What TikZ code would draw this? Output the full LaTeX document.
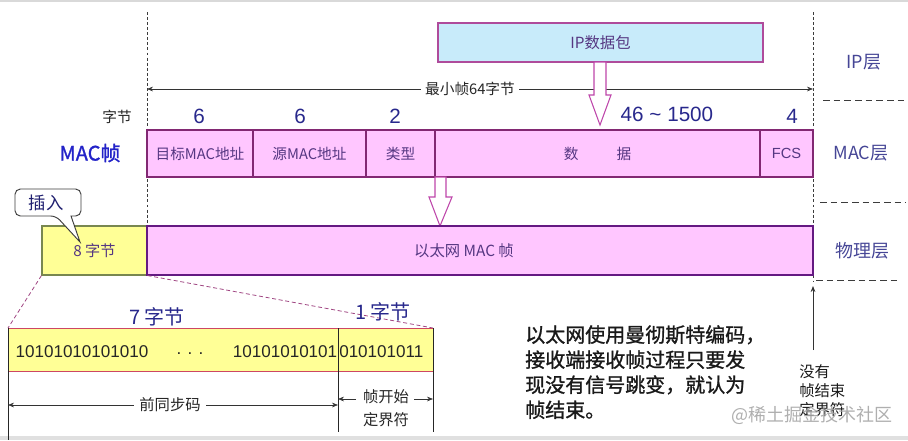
\documentclass[tikz,border=0pt]{standalone}
\usepackage{fontspec}
\setmainfont{Noto Sans CJK SC}
\newfontfamily\arialf{Liberation Sans}
\newfontfamily\cjkbold[FakeBold=1.2]{Noto Sans CJK SC}
\usetikzlibrary{arrows.meta,fit}
\definecolor{macpink}{RGB}{255,198,255}
\definecolor{macborder}{RGB}{130,40,115}
\definecolor{phyborder}{RGB}{100,25,130}
\definecolor{ipfill}{RGB}{200,235,250}
\definecolor{ipborder}{RGB}{175,75,155}
\definecolor{fieldtxt}{RGB}{85,55,130}
\definecolor{numblue}{RGB}{40,40,140}
\definecolor{macblue}{RGB}{35,35,200}
\definecolor{layerblue}{RGB}{70,70,150}
\definecolor{hollowpink}{RGB}{190,70,170}
\definecolor{yel}{RGB}{255,255,150}
\definecolor{yelborder}{RGB}{120,135,80}
\definecolor{barborder}{RGB}{205,70,100}
\definecolor{dashpurple}{RGB}{160,70,130}
\definecolor{darkgray}{RGB}{60,60,60}
\begin{document}
\begin{tikzpicture}[x=0.75pt,y=-0.75pt,
  field/.style={draw=macborder, fill=macpink, line width=0.8pt, inner sep=0pt},
  ftext/.style={text=fieldtxt, font=\fontsize{11}{13}\selectfont, inner sep=0pt},
  num/.style={text=numblue, font=\arialf\fontsize{15.5}{18}\selectfont, inner sep=0pt},
  layer/.style={text=layerblue, font=\fontsize{13.5}{16}\selectfont, inner sep=0pt},
  hollow/.style={draw=hollowpink, fill=white, line width=0.8pt},
  vdash/.style={draw=darkgray, line width=0.6pt, dash pattern=on 2.2pt off 1.6pt},
  hdash/.style={draw=darkgray, line width=0.6pt, dash pattern=on 5pt off 3pt},
  dimarrow/.style={-{Stealth[length=4.5pt,width=3.5pt]}, line width=0.5pt, draw=black!80},
  lbl/.style={inner sep=1pt, text=black!85},
  bits/.style={font=\arialf\fontsize{12.8}{15}\selectfont, text=black!85, inner sep=0pt}
]
\useasboundingbox (0,0) rectangle (908,440);
% frame lines of the screenshot
\draw[black!15, line width=1pt] (0,1) -- (908,1);
\fill[black!12] (0,436) rectangle (908,440);

% vertical dashed boundaries
\coordinate (lt) at (147,12);
\coordinate (lb) at (147,226);
\coordinate (rt) at (813,12);
\coordinate (rb) at (813,282);
\draw[vdash] (lt) -- (lb);
\draw[vdash] (rt) -- (rb);

% layer separators and labels
\coordinate (s1a) at (823,100); \coordinate (s1b) at (908,100);
\coordinate (s2a) at (820,202); \coordinate (s2b) at (906,202);
\coordinate (s3a) at (816,280); \coordinate (s3b) at (900,280);
\draw[hdash] (s1a) -- (s1b);
\draw[hdash] (s2a) -- (s2b);
\draw[hdash] (s3a) -- (s3b);
\node[layer] (iplayer) at (864,62) {IP层};
\node[layer] (maclayer) at (861,153) {MAC层};
\node[layer] (phylayer) at (862,251) {物理层};

% IP packet
\node[draw=ipborder, fill=ipfill, line width=0.9pt, inner sep=0pt, fit={(438,23) (763,62)},
      label={[ftext, font=\fontsize{11.5}{13}\selectfont]center:IP数据包}] (ip) {};

% min frame arrow
\node[lbl, font=\fontsize{11}{13}\selectfont, fill=white, inner sep=3pt] (minf) at (470,89) {最小帧64字节};
\draw[dimarrow] (minf.west) -- (lt |- minf.west);
\draw[dimarrow] (minf.east) -- (rt |- minf.east);

% hollow arrow IP -> MAC data
\draw[hollow] (594,62) -- (606,62) -- (606,95) -- (611,95) -- (600,125) -- (589,95) -- (594,95) -- cycle;

% byte counts
\node[lbl, font=\fontsize{11}{13}\selectfont] (zj) at (117,117) {字节};
\node[num] (n1) at (199,116) {6};
\node[num] (n2) at (300,116) {6};
\node[num] (n3) at (395,116) {2};
\node[num] (n4) at (667,114) {46 \textasciitilde{} 1500};
\node[num] (n5) at (792,116) {4};

% MAC frame
\node[text=macblue, font=\cjkbold\fontsize{15}{17}\selectfont, inner sep=0pt] (macz) at (90,153) {MAC帧};
\node[field, fit={(147,130) (253,177)}, label={[ftext]center:目标MAC地址}] (dst) {};
\node[field, fit={(253,130) (366,177)}, label={[ftext]center:源MAC地址}] (src) {};
\node[field, fit={(366,130) (435,177)}, label={[ftext]center:类型}] (typ) {};
\node[field, fit={(435,130) (760,177)}, label={[ftext]center:数\hspace{2.6em}据}] (dat) {};
\node[field, fit={(760,130) (813,177)}, label={[ftext, font=\arialf\fontsize{11}{13}\selectfont]center:FCS}] (fcs) {};

% hollow arrow MAC -> physical
\draw[hollow] (435,177) -- (446,177) -- (446,197) -- (452,197) -- (440,226) -- (429,197) -- (435,197) -- cycle;

% physical layer frame
\node[draw=yelborder, fill=yel, line width=0.8pt, inner sep=0pt, fit={(42,226) (147,275)},
      label={[ftext, font=\fontsize{11.4}{13}\selectfont]center:8 字节}] (pre8) {};
\node[draw=phyborder, fill=macpink, line width=1.2pt, inner sep=0pt, fit={(147,226) (813,275)},
      label={[ftext, font=\fontsize{11.5}{13}\selectfont, xshift=-12pt]center:以太网 MAC 帧}] (phy) {};

% callout
\draw[draw=darkgray, fill=white, line width=0.7pt] (80,242) -- (71,216) [rounded corners=4pt] -- (81,216) -- (81,189) -- (15,189) -- (15,216) -- (56,216) [sharp corners] -- cycle;
\node[text=numblue!80!black, font=\fontsize{13}{15}\selectfont, inner sep=0pt] (ins) at (46,203) {插入};

% zoom lines
\coordinate (zl) at (8,328);
\coordinate (zr) at (433,328);
\draw[dashpurple, line width=0.6pt, dash pattern=on 3pt off 2pt] (pre8.south west) -- (zl);
\draw[dashpurple, line width=0.6pt, dash pattern=on 3pt off 2pt] (pre8.south east) -- (zr);

% 7 / 1 byte
\node[num, font=\fontsize{15}{17}\selectfont] (b7) at (157,317) {7 字节};
\node[num, font=\fontsize{15}{17}\selectfont] (b1) at (383,312) {1 字节};

% preamble bar
\fill[yel] (8,328) rectangle (433,371);
\draw[barborder, line width=0.7pt] (8,328) -- (433,328);
\draw[barborder, line width=0.7pt] (8,371) -- (433,371);
\coordinate (v1t) at (8,328); \coordinate (v1b) at (8,440);
\coordinate (v2t) at (338,328); \coordinate (v2b) at (338,432);
\coordinate (v3t) at (433,328); \coordinate (v3b) at (433,432);
\draw[black!85, line width=0.6pt] (v1t) -- (v1b);
\draw[black!85, line width=0.6pt] (v2t) -- (v2b);
\draw[black!85, line width=0.6pt] (v3t) -- (v3b);
\node[bits] (t1) at (82,352) {10101010101010};
\node[bits] (t2) at (190,354) {. . .};
\node[bits, anchor=east] (t3) at (337.5,352) {10101010101};
\node[bits, anchor=west] (t4) at (339,352) {010101011};

% bottom dimension arrows
\node[lbl, font=\fontsize{11.5}{13}\selectfont, inner sep=4pt] (qtb) at (170,405) {前同步码};
\draw[dimarrow] (qtb.west) -- (v1t |- qtb.west);
\draw[dimarrow] (qtb.east) -- (v2t |- qtb.east);
\node[lbl, font=\fontsize{11.5}{17}\selectfont, align=center, inner sep=2pt] (sfd) at (386,408) {帧开始\\定界符};
\coordinate (sfdl) at (356,399);
\coordinate (sfdr) at (414,399);
\draw[dimarrow] (sfdl) -- (v2t |- sfdl);
\draw[dimarrow] (sfdr) -- (v3t |- sfdr);

% explanation text
\node[anchor=north west, align=left, inner sep=0pt, text=black!90,
      font=\cjkbold\fontsize{15}{18.8}\selectfont] (expl) at (525,325) {以太网使用曼彻斯特编码，\\接收端接收帧过程只要发\\现没有信号跳变，就认为\\帧结束。};

% no end delimiter
\coordinate (upb) at (813,350);
\coordinate (upt) at (813,286);
\draw[dimarrow, line width=0.6pt] (upb) -- (upt);
\node[anchor=north west, align=left, inner sep=0pt, text=black!90,
      font=\fontsize{11.5}{14.2}\selectfont] (noend) at (799,364) {没有\\帧结束\\定界符};

% watermark
\node[text=black!35, font=\fontsize{13.5}{16}\selectfont, inner sep=0pt, opacity=0.9] (wm) at (812,415) {@稀土掘金技术社区};
\end{tikzpicture}
\end{document}
